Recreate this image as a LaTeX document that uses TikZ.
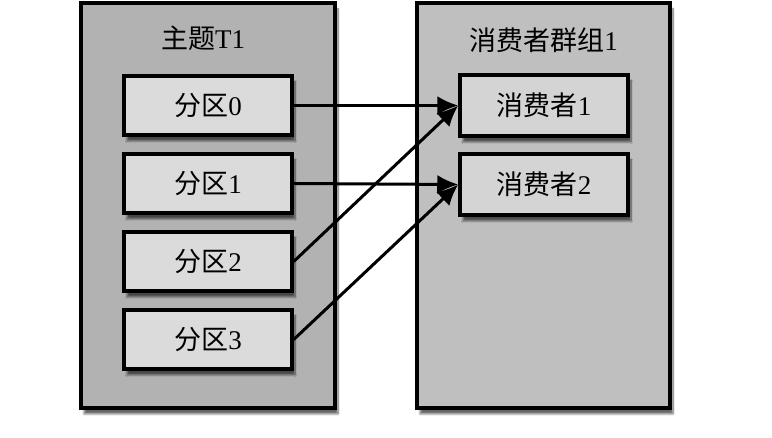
\documentclass[tikz,border=0pt]{standalone}
\usepackage{fontspec}
\setmainfont{Liberation Serif}
\newfontfamily\cjk{Noto Sans CJK SC}
\usetikzlibrary{positioning,shadows.blur,arrows.meta}

\begin{document}
\begin{tikzpicture}[x=1pt,y=1pt,node distance=15.5pt,
	container/.style={
		% The shape:
		rectangle,
		% The size:
		minimum width=254pt, minimum height=405pt,
		% The border:
		line width=3.5pt,
		draw=black,
		% The filling:
		fill=black!30,
		blur shadow={shadow xshift=3pt,shadow yshift=-6pt,shadow blur steps=10,shadow opacity=60}
		},
	partition/.style={
		% The shape:
		rectangle,
		% The size:
		minimum width=168pt, minimum height=59pt,
		% The border:
		line width=3.5pt,
		draw=black,
		% The filling:
		fill=black!14,
		blur shadow={shadow xshift=3pt,shadow yshift=-6pt,shadow blur steps=10,shadow opacity=60},
		% Font
		font=\fontsize{27}{30}\selectfont
		},
	title/.style={font=\fontsize{27}{30}\selectfont},
	arrow/.style={-{Latex[length=21pt,width=19pt]},line width=3pt}]

	\useasboundingbox (0,0) rectangle (772,438);

	\node (topic) [container] at (208,232.5) {};
	\node (group) [container,fill=black!25,minimum width=253pt] at (543.5,232.5) {};
	\node (topictitle) [title] at (203,400) {{\cjk 主题}T1};
	\node (grouptitle) [title] at (543.5,398) {{\cjk 消费者群组}1};

	\node (p0) [partition] at (208,332.5) {{\cjk 分区}0};
	\node (p1) [partition,below=of p0] {{\cjk 分区}1};
	\node (p2) [partition,below=of p1] {{\cjk 分区}2};
	\node (p3) [partition,below=of p2] {{\cjk 分区}3};

	\node (c1) [partition,fill=black!17,minimum height=61pt] at (544,332.5) {{\cjk 消费者}1};
	\node (c2) [partition,fill=black!17,minimum height=61pt,below=14.5pt of c1] {{\cjk 消费者}2};

	\path (p0.east) edge[arrow] (c1.west); % simple edges
	\path (p1.east) edge[arrow] (c2.west); % simple edges
	\path (p2.east) edge[arrow] (c1.west); % simple edges
	\path (p3.east) edge[arrow] (c2.west); % simple edges

\end{tikzpicture}
\end{document}
